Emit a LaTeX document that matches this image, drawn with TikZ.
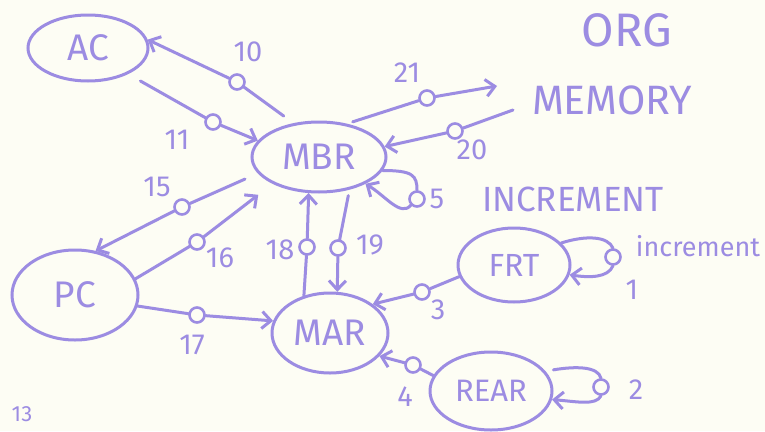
\documentclass[tikz,border=0pt]{standalone}
\usepackage{fontspec}
\setmainfont{Fira Sans}
\usetikzlibrary{arrows.meta,shapes.geometric}
\definecolor{ink}{RGB}{156,140,226}
\definecolor{paper}{RGB}{253,253,244}
\tikzset{
  place/.style={ellipse, draw=ink, line width=3pt, inner sep=0pt, text=ink, font=\fontsize{37}{37}\selectfont},
  trans/.style={circle, draw=ink, line width=2.6pt, minimum size=15pt, inner sep=0pt},
  link/.style={draw=ink, line width=3pt, line cap=round},
  arc/.style={link, -{Straight Barb[length=9pt,width=17pt]}},
  lbl/.style={text=ink, font=\fontsize{29}{29}\selectfont, inner sep=0pt},
  big/.style={text=ink, font=\fontsize{41}{41}\selectfont, inner sep=0pt}
}
\begin{document}
\begin{tikzpicture}[x=1pt,y=-1pt]
\useasboundingbox (0,0) rectangle (765,431);
\fill[paper] (0,0) rectangle (765,431);
\begin{scope}
\clip (0,0) rectangle (765,431);
% places
\node[place, minimum width=120pt, minimum height=66pt] (AC) at (88,48) {AC};
\node[place, minimum width=134pt, minimum height=70pt] (MBR) at (319,157) {MBR};
\node[place, minimum width=126pt, minimum height=90pt] (PC) at (75,295) {PC};
\node[place, minimum width=116pt, minimum height=80pt] (MAR) at (330,333) {MAR};
\node[place, minimum width=112pt, minimum height=74pt, font=\fontsize{32}{32}\selectfont] (FRT) at (514,265) {FRT};
\node[place, minimum width=122pt, minimum height=78pt, font=\fontsize{31}{31}\selectfont] (REAR) at (491,391) {REAR};
% transitions
\node[trans] (t10) at (237,82) {};
\node[trans] (t11) at (213,122) {};
\node[trans] (t21) at (427,98) {};
\node[trans] (t20) at (455,131) {};
\node[trans] (t5) at (417,199) {};
\node[trans] (t15) at (182,207) {};
\node[trans] (t16) at (197,242) {};
\node[trans] (t17) at (197,315) {};
\node[trans] (t18) at (307,247) {};
\node[trans] (t19) at (338,248) {};
\node[trans] (t3) at (422,292) {};
\node[trans] (t4) at (413,365) {};
\node[trans] (t1) at (613,257) {};
\node[trans] (t2) at (601,387) {};
\coordinate (m21) at (497,86);
\coordinate (m20) at (513,110);
% connectors
\draw[link, shorten <=12pt] (MBR.127) -- (t10);
\draw[arc] (t10) -- (AC.8);
\draw[link, shorten <=14pt] (AC.-33) -- (t11);
\draw[arc] (t11) -- (MBR.165);
\draw[link, shorten <=6pt] (MBR.50) -- (t21);
\draw[arc] (t21) -- (m21);
\draw[link] (m20) -- (t20);
\draw[arc] (t20) -- (MBR.9);
\draw[link] (MBR.-12) .. controls +(30,0) and +(0,-15) .. (t5.north);
\draw[arc] (t5.south west) .. controls +(-10,12) and +(20,12) .. (MBR.-30);
\draw[link, shorten <=14pt] (MBR.195) -- (t15);
\draw[arc] (t15) -- (PC.65);
\draw[link] (PC.15) -- (t16);
\draw[arc, shorten >=18pt] (t16) -- (MBR.210);
\draw[link] (PC.-10) -- (t17);
\draw[arc] (t17) -- (MAR.168);
\draw[link] (MAR.125) -- (t18);
\draw[arc] (t18) -- (MBR.254);
\draw[link, shorten <=6pt] (MBR.-47) -- (t19);
\draw[arc] (t19) -- (MAR.80);
\draw[link] (FRT.192) -- (t3);
\draw[arc] (t3) -- (MAR.34);
\draw[link] (REAR.165) -- (t4);
\draw[arc] (t4) -- (MAR.-25);
\draw[link] (FRT.25) .. controls +(25,-8) and +(-5,-12) .. (t1.north);
\draw[arc] (t1.south) .. controls +(-5,12) and +(20,3) .. (FRT.-10);
\draw[link, shorten <=8pt] (REAR.20) .. controls +(30,-5) and +(-3,-12) .. (t2.north);
\draw[arc] (t2.south) .. controls +(-5,10) and +(25,2) .. (REAR.-8);
% labels
\node[lbl] (l10) at (248,52) {10};
\node[lbl] (l11) at (177,140) {11};
\node[lbl] (l15) at (157,187) {15};
\node[lbl] (l16) at (220,258) {16};
\node[lbl] (l17) at (192,345) {17};
\node[lbl] (l18) at (280,250) {18};
\node[lbl] (l19) at (370,245) {19};
\node[lbl] (l20) at (472,150) {20};
\node[lbl] (l21) at (407,73) {21};
\node[lbl] (l3) at (438,310) {3};
\node[lbl] (l4) at (405,397) {4};
\node[lbl] (l1) at (632,290) {1};
\node[lbl] (l2) at (636,390) {2};
\node[lbl] (l5) at (437,199) {5};
\node[lbl, font=\fontsize{35}{35}\selectfont] (linc) at (573,199) {INCREMENT};
\node[lbl, font=\fontsize{27}{27}\selectfont] (linc2) at (698,246) {increment};
\node[big, font=\fontsize{47}{47}\selectfont] (org) at (627,30) {ORG};
\node[big] (mem) at (612,100) {MEMORY};
\node[lbl, font=\fontsize{22}{22}\selectfont] (l13) at (22,414) {13};
\end{scope}
\end{tikzpicture}
\end{document}
